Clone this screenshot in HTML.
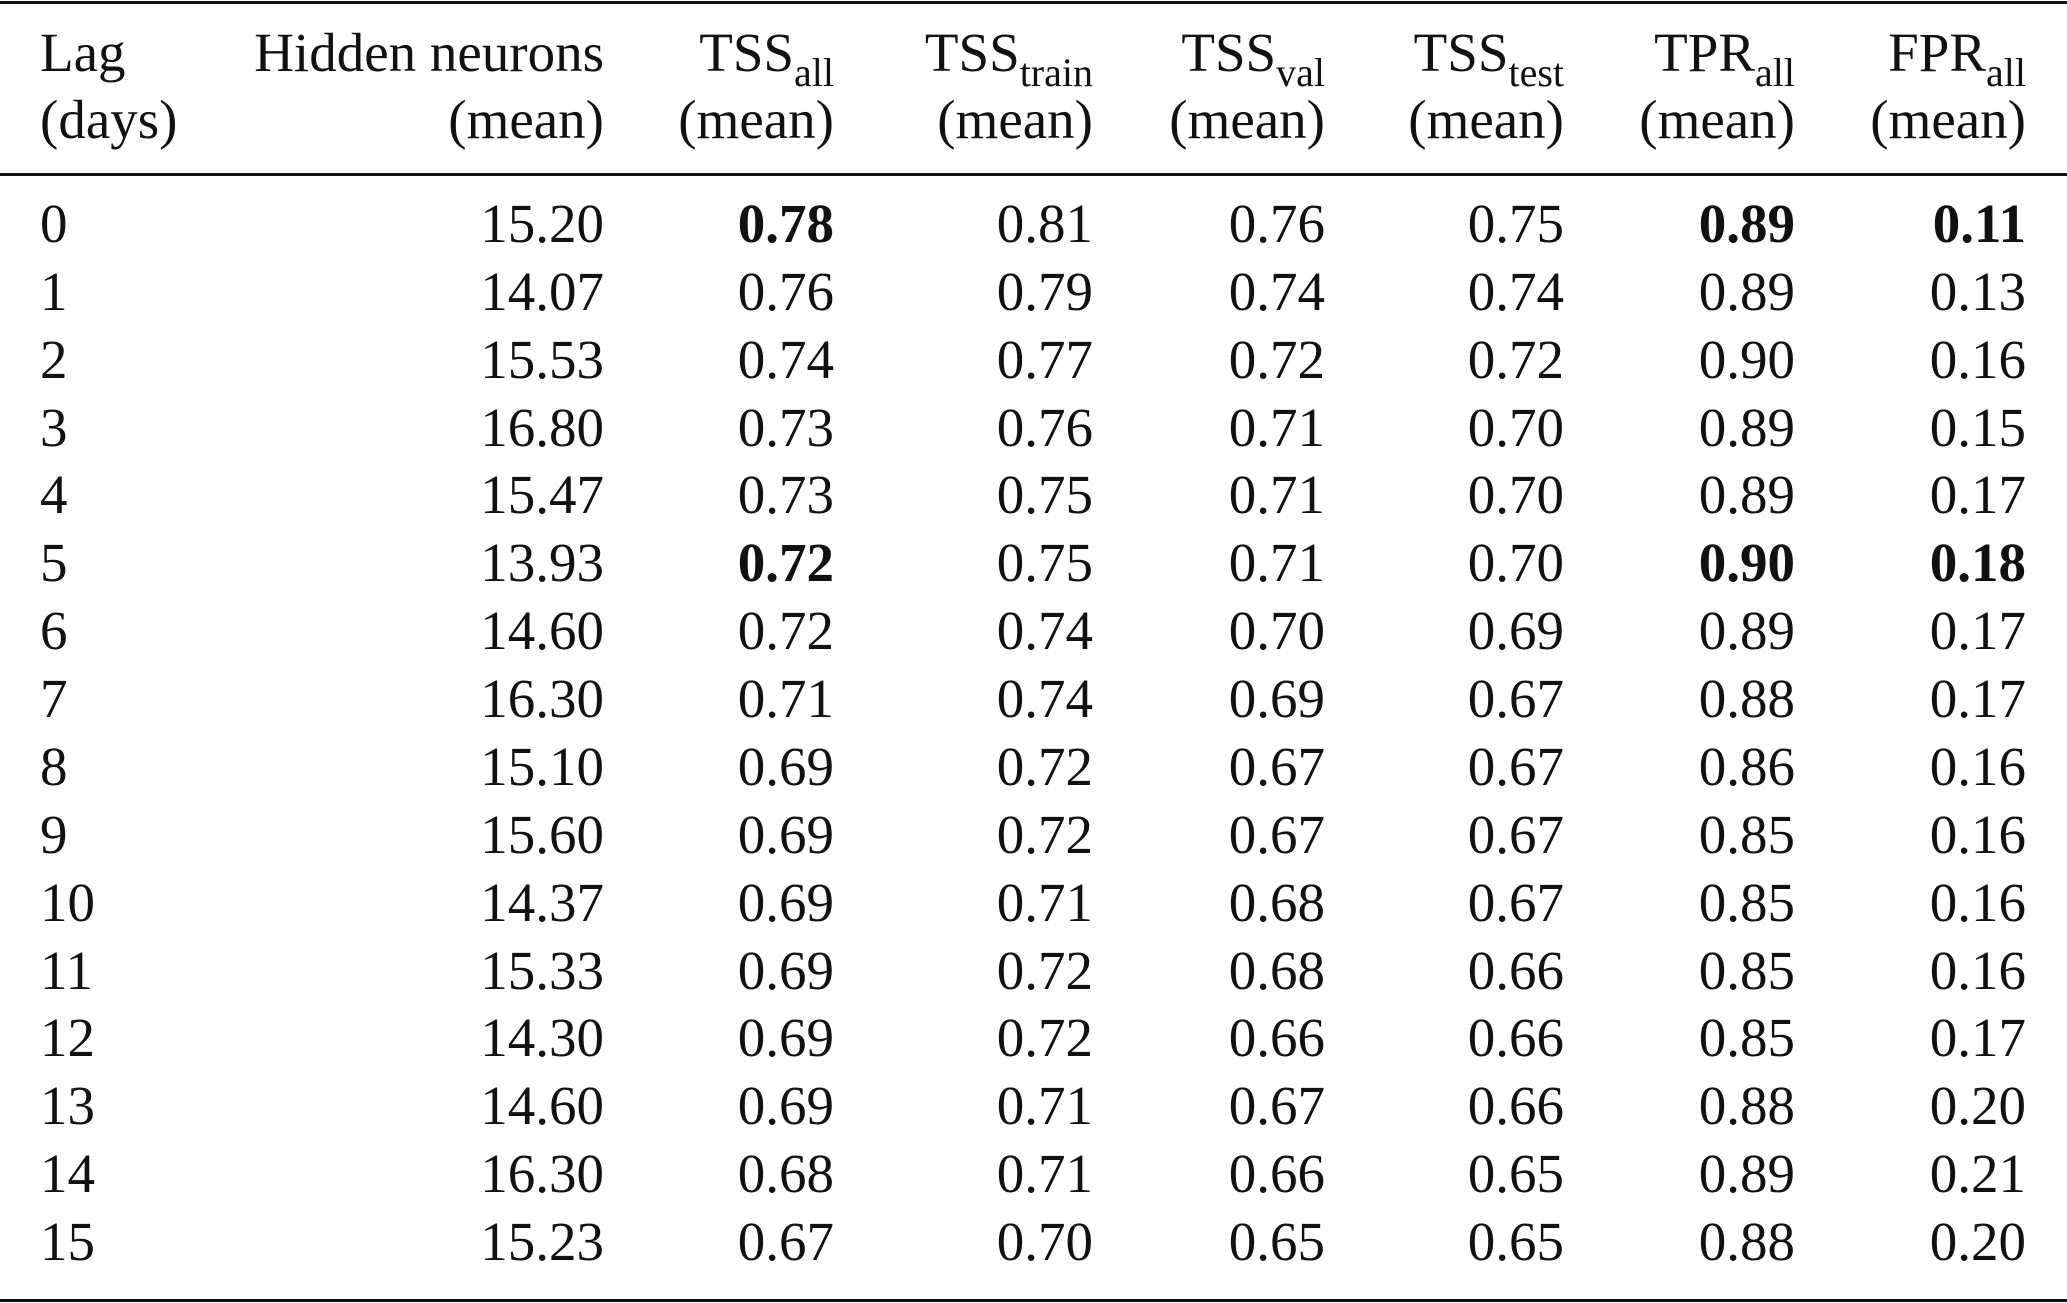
<!DOCTYPE html>
<html><head><meta charset="utf-8"><style>
html,body{margin:0;padding:0;background:#fff;}
body{width:2067px;height:1303px;position:relative;overflow:hidden;font-family:"Liberation Serif",serif;font-size:55px;color:#111;line-height:55px;}
.r{position:absolute;left:0;width:2067px;height:55px;}
.r span{position:absolute;top:0;white-space:nowrap;}
.c1{left:40px}
.c2{right:1463px}.c3{right:1233px}.c4{right:974px}.c5{right:742px}.c6{right:503px}.c7{right:272px}.c8{right:41px}
b{font-weight:bold}
sub{font-size:40px;vertical-align:-15px;line-height:0}
.rule{position:absolute;left:0;width:2067px;background:#111;}
</style></head><body>
<div class="rule" style="top:1px;height:3px"></div>
<div class="rule" style="top:173px;height:3px"></div>
<div class="rule" style="top:1299px;height:3px"></div>
<div class="r" style="top:25px"><span class="c1">Lag</span><span class="c2">Hidden neurons</span><span class="c3">TSS<sub>all</sub></span><span class="c4">TSS<sub>train</sub></span><span class="c5">TSS<sub>val</sub></span><span class="c6">TSS<sub>test</sub></span><span class="c7">TPR<sub>all</sub></span><span class="c8">FPR<sub>all</sub></span></div>
<div class="r" style="top:92px"><span class="c1">(days)</span><span class="c2">(mean)</span><span class="c3">(mean)</span><span class="c4">(mean)</span><span class="c5">(mean)</span><span class="c6">(mean)</span><span class="c7">(mean)</span><span class="c8">(mean)</span></div>
<div class="r" style="top:196px"><span class="c1">0</span><span class="c2">15.20</span><span class="c3"><b>0.78</b></span><span class="c4">0.81</span><span class="c5">0.76</span><span class="c6">0.75</span><span class="c7"><b>0.89</b></span><span class="c8"><b>0.11</b></span></div>
<div class="r" style="top:264px"><span class="c1">1</span><span class="c2">14.07</span><span class="c3">0.76</span><span class="c4">0.79</span><span class="c5">0.74</span><span class="c6">0.74</span><span class="c7">0.89</span><span class="c8">0.13</span></div>
<div class="r" style="top:332px"><span class="c1">2</span><span class="c2">15.53</span><span class="c3">0.74</span><span class="c4">0.77</span><span class="c5">0.72</span><span class="c6">0.72</span><span class="c7">0.90</span><span class="c8">0.16</span></div>
<div class="r" style="top:400px"><span class="c1">3</span><span class="c2">16.80</span><span class="c3">0.73</span><span class="c4">0.76</span><span class="c5">0.71</span><span class="c6">0.70</span><span class="c7">0.89</span><span class="c8">0.15</span></div>
<div class="r" style="top:467px"><span class="c1">4</span><span class="c2">15.47</span><span class="c3">0.73</span><span class="c4">0.75</span><span class="c5">0.71</span><span class="c6">0.70</span><span class="c7">0.89</span><span class="c8">0.17</span></div>
<div class="r" style="top:535px"><span class="c1">5</span><span class="c2">13.93</span><span class="c3"><b>0.72</b></span><span class="c4">0.75</span><span class="c5">0.71</span><span class="c6">0.70</span><span class="c7"><b>0.90</b></span><span class="c8"><b>0.18</b></span></div>
<div class="r" style="top:603px"><span class="c1">6</span><span class="c2">14.60</span><span class="c3">0.72</span><span class="c4">0.74</span><span class="c5">0.70</span><span class="c6">0.69</span><span class="c7">0.89</span><span class="c8">0.17</span></div>
<div class="r" style="top:671px"><span class="c1">7</span><span class="c2">16.30</span><span class="c3">0.71</span><span class="c4">0.74</span><span class="c5">0.69</span><span class="c6">0.67</span><span class="c7">0.88</span><span class="c8">0.17</span></div>
<div class="r" style="top:739px"><span class="c1">8</span><span class="c2">15.10</span><span class="c3">0.69</span><span class="c4">0.72</span><span class="c5">0.67</span><span class="c6">0.67</span><span class="c7">0.86</span><span class="c8">0.16</span></div>
<div class="r" style="top:807px"><span class="c1">9</span><span class="c2">15.60</span><span class="c3">0.69</span><span class="c4">0.72</span><span class="c5">0.67</span><span class="c6">0.67</span><span class="c7">0.85</span><span class="c8">0.16</span></div>
<div class="r" style="top:875px"><span class="c1">10</span><span class="c2">14.37</span><span class="c3">0.69</span><span class="c4">0.71</span><span class="c5">0.68</span><span class="c6">0.67</span><span class="c7">0.85</span><span class="c8">0.16</span></div>
<div class="r" style="top:943px"><span class="c1">11</span><span class="c2">15.33</span><span class="c3">0.69</span><span class="c4">0.72</span><span class="c5">0.68</span><span class="c6">0.66</span><span class="c7">0.85</span><span class="c8">0.16</span></div>
<div class="r" style="top:1010px"><span class="c1">12</span><span class="c2">14.30</span><span class="c3">0.69</span><span class="c4">0.72</span><span class="c5">0.66</span><span class="c6">0.66</span><span class="c7">0.85</span><span class="c8">0.17</span></div>
<div class="r" style="top:1078px"><span class="c1">13</span><span class="c2">14.60</span><span class="c3">0.69</span><span class="c4">0.71</span><span class="c5">0.67</span><span class="c6">0.66</span><span class="c7">0.88</span><span class="c8">0.20</span></div>
<div class="r" style="top:1146px"><span class="c1">14</span><span class="c2">16.30</span><span class="c3">0.68</span><span class="c4">0.71</span><span class="c5">0.66</span><span class="c6">0.65</span><span class="c7">0.89</span><span class="c8">0.21</span></div>
<div class="r" style="top:1214px"><span class="c1">15</span><span class="c2">15.23</span><span class="c3">0.67</span><span class="c4">0.70</span><span class="c5">0.65</span><span class="c6">0.65</span><span class="c7">0.88</span><span class="c8">0.20</span></div>
</body></html>
